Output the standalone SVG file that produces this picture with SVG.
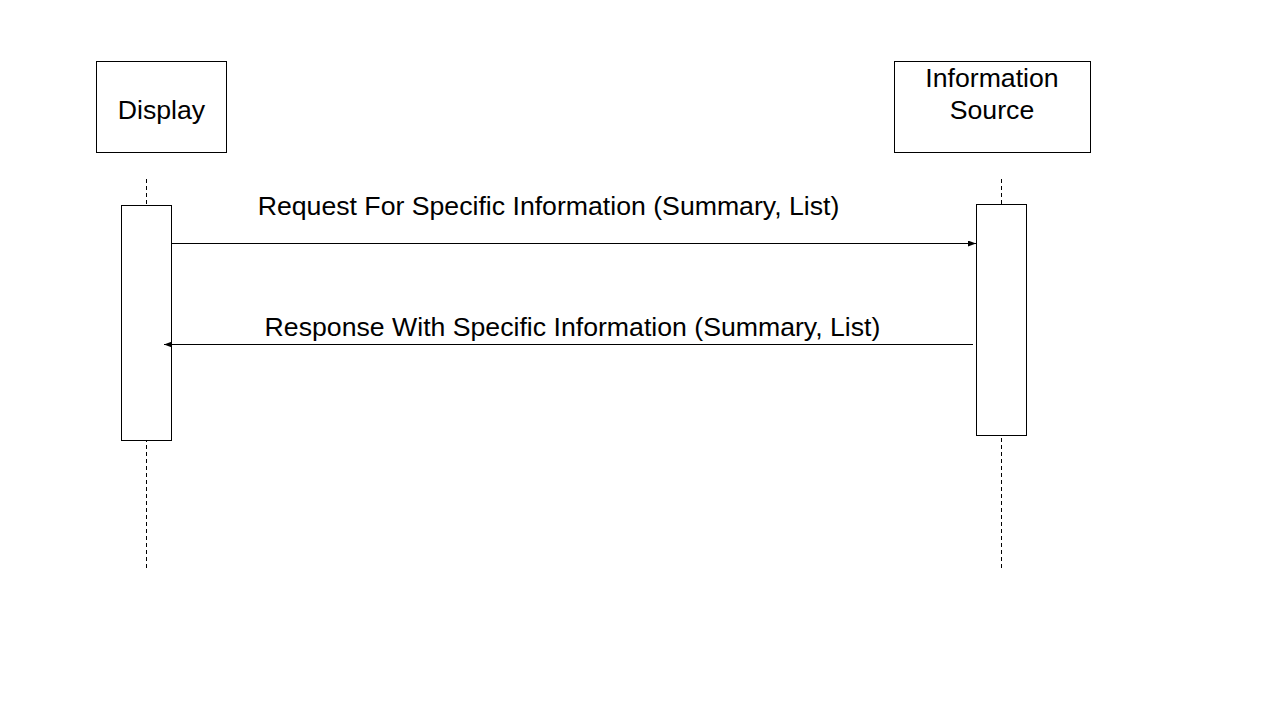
<svg xmlns="http://www.w3.org/2000/svg" width="1280" height="720" viewBox="0 0 1280 720">
<style>
.box{fill:#fff;stroke:#000;stroke-width:1}
.life{stroke:#000;stroke-width:1;stroke-dasharray:4 3;fill:none}
.msg{stroke:#000;stroke-width:1;fill:none}
text{font-family:"Liberation Sans",Arial,sans-serif;font-size:26.67px;fill:#000;text-anchor:middle}
</style>
<defs>
<marker id="ah" markerWidth="8" markerHeight="6" refX="8" refY="3" orient="auto" markerUnits="userSpaceOnUse">
<path d="M0,0 L8,3 L0,6 Z" fill="#000"/>
</marker>
</defs>
<rect width="1280" height="720" fill="#fff"/>
<g id="lifelines">
<line class="life" x1="146.5" y1="179" x2="146.5" y2="569"/>
<line class="life" x1="1001.5" y1="179" x2="1001.5" y2="569"/>
</g>
<g id="display">
<rect class="box" x="96.5" y="61.5" width="130" height="91"/>
<text x="161.5" y="119">Display</text>
<rect class="box" x="121.5" y="205.5" width="50" height="235"/>
</g>
<g id="source">
<rect class="box" x="894.5" y="61.5" width="196" height="91"/>
<text x="992" y="87">Information</text>
<text x="992" y="119">Source</text>
<rect class="box" x="976.5" y="204.5" width="50" height="231"/>
</g>
<g id="connectors">
<line class="msg" x1="172" y1="243.5" x2="976" y2="243.5" marker-end="url(#ah)"/>
<line class="msg" x1="973" y1="344.5" x2="164" y2="344.5" marker-end="url(#ah)"/>
<text x="548.5" y="215">Request For Specific Information (Summary, List)</text>
<text x="572.5" y="336">Response With Specific Information (Summary, List)</text>
</g>
</svg>
